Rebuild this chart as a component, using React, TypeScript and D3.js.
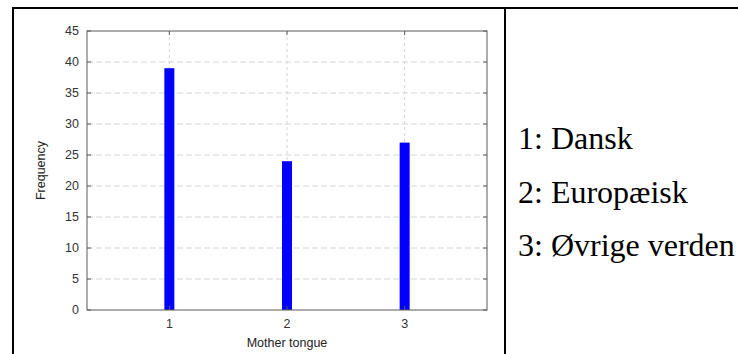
import React from "react";
import * as d3 from "d3";

// Mother tongue categories and their frequencies
const categories = [1, 2, 3];
const frequencies = [39, 24, 27];
const yTickValues = [0, 5, 10, 15, 20, 25, 30, 35, 40, 45];
const legendLabels = ["1: Dansk", "2: Europæisk", "3: Øvrige verden"];
const xAxisLabel = "Mother tongue";
const yAxisLabel = "Frequency";

const W = 738;
const H = 354;
const plot = { left: 87, right: 487, top: 31, bottom: 310 };
const BAR_W = 10;
const SANS = "'Liberation Sans', Arial, Helvetica, sans-serif";
const SERIF = "'Liberation Serif', 'Times New Roman', serif";

export default function App() {
  const x = d3.scaleLinear().domain([0.3, 3.7]).range([plot.left, plot.right]);
  const y = d3.scaleLinear().domain([0, 45]).range([plot.bottom, plot.top]);
  const axisColor = "#5a5a5a";
  const gridColor = "#d4d4d4";
  const tickLen = 4;

  return (
    <svg
      width={W}
      height={H}
      style={{ position: "absolute", left: 0, top: 0, background: "#fff" }}
    >
      <rect x={0} y={0} width={W} height={H} fill="#fff" />

      {/* table cell borders */}
      <line x1={12} x2={W} y1={8} y2={8} stroke="#000" strokeWidth={2} />
      <line x1={13} x2={13} y1={7} y2={H} stroke="#000" strokeWidth={2} />
      <line x1={505} x2={505} y1={7} y2={H} stroke="#000" strokeWidth={2} />

      {/* grid */}
      {yTickValues
        .filter((v) => v > 0 && v < 45)
        .map((v) => (
          <line
            key={"gy" + v}
            x1={plot.left}
            x2={plot.right}
            y1={y(v)}
            y2={y(v)}
            stroke={gridColor}
            strokeDasharray="6,3"
          />
        ))}
      {categories.map((c) => (
        <line
          key={"gx" + c}
          x1={x(c)}
          x2={x(c)}
          y1={plot.top}
          y2={plot.bottom}
          stroke={gridColor}
          strokeDasharray="3,3"
        />
      ))}

      {/* bars */}
      {categories.map((c, i) => (
        <rect
          key={"b" + c}
          x={x(c) - BAR_W / 2}
          y={y(frequencies[i])}
          width={BAR_W}
          height={y(0) - y(frequencies[i])}
          fill="#0000ff"
        />
      ))}

      {/* frame */}
      <rect
        x={plot.left}
        y={plot.top}
        width={plot.right - plot.left}
        height={plot.bottom - plot.top}
        fill="none"
        stroke={axisColor}
        strokeWidth={1}
      />

      {/* y ticks */}
      {yTickValues.map((v) => (
        <g key={"ty" + v}>
          <line x1={plot.left} x2={plot.left + tickLen} y1={y(v)} y2={y(v)} stroke={axisColor} />
          <line x1={plot.right} x2={plot.right - tickLen} y1={y(v)} y2={y(v)} stroke={axisColor} />
          <text
            x={plot.left - 8}
            y={y(v)}
            textAnchor="end"
            dominantBaseline="central"
            fontFamily={SANS}
            fontSize={12.5}
            fill="#333"
          >
            {v}
          </text>
        </g>
      ))}

      {/* x ticks */}
      {categories.map((c) => (
        <g key={"tx" + c}>
          <line x1={x(c)} x2={x(c)} y1={plot.bottom} y2={plot.bottom - tickLen} stroke={axisColor} />
          <line x1={x(c)} x2={x(c)} y1={plot.top} y2={plot.top + tickLen} stroke={axisColor} />
          <text
            x={x(c)}
            y={plot.bottom + 18}
            textAnchor="middle"
            fontFamily={SANS}
            fontSize={12.5}
            fill="#333"
          >
            {c}
          </text>
        </g>
      ))}

      {/* axis labels */}
      <text
        x={(plot.left + plot.right) / 2}
        y={347}
        textAnchor="middle"
        fontFamily={SANS}
        fontSize={12.5}
        fill="#222"
      >
        {xAxisLabel}
      </text>
      <text
        transform={`translate(41, ${(plot.top + plot.bottom) / 2}) rotate(-90)`}
        textAnchor="middle"
        dominantBaseline="central"
        fontFamily={SANS}
        fontSize={12.5}
        fill="#222"
      >
        {yAxisLabel}
      </text>

      {/* category legend */}
      {legendLabels.map((t, i) => (
        <text
          key={t}
          x={518}
          y={149 + i * 53.5}
          fontFamily={SERIF}
          fontSize={32}
          fill="#000"
        >
          {t}
        </text>
      ))}
    </svg>
  );
}
